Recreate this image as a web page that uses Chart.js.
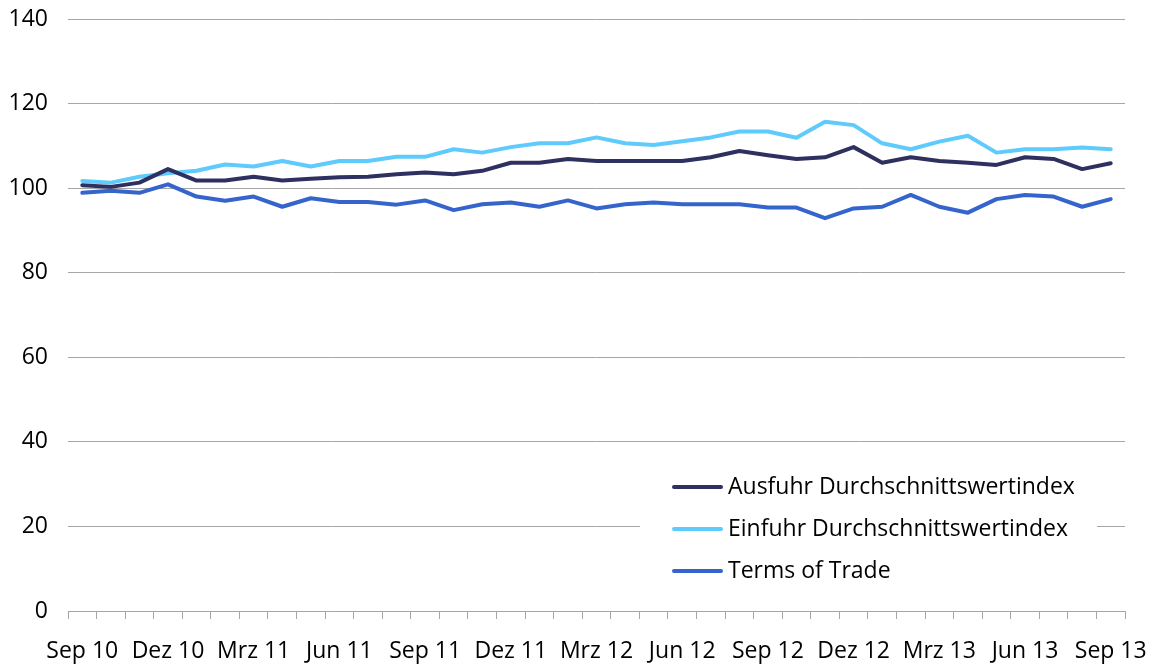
<!DOCTYPE html>
<html>
<head>
<meta charset="utf-8">
<script src="https://cdn.jsdelivr.net/npm/chart.js@4/dist/chart.umd.min.js"></script>
<style>
  html, body { margin: 0; padding: 0; background: #ffffff; }
  #wrap { width: 1154px; height: 666px; }
</style>
</head>
<body>
<div id="wrap"><canvas id="c" width="1154" height="666"></canvas></div>
<script>
// Monthly categories Sep 2010 – Sep 2013
const monthLabels = [
  'Sep 10','Okt 10','Nov 10','Dez 10','Jan 11','Feb 11','Mrz 11','Apr 11','Mai 11','Jun 11','Jul 11','Aug 11',
  'Sep 11','Okt 11','Nov 11','Dez 11','Jan 12','Feb 12','Mrz 12','Apr 12','Mai 12','Jun 12','Jul 12','Aug 12',
  'Sep 12','Okt 12','Nov 12','Dez 12','Jan 13','Feb 13','Mrz 13','Apr 13','Mai 13','Jun 13','Jul 13','Aug 13',
  'Sep 13'
];
// Only every third month is labelled on the axis
const shownLabels = ['Sep 10','Dez 10','Mrz 11','Jun 11','Sep 11','Dez 11','Mrz 12','Jun 12','Sep 12','Dez 12','Mrz 13','Jun 13','Sep 13'];

const ausfuhr = [100.7,100.3,101.3,104.5,101.8,101.8,102.7,101.8,102.2,102.6,102.7,103.3,103.7,103.3,104.1,106.0,106.0,106.9,106.4,106.4,106.4,106.4,107.3,108.8,107.8,106.9,107.3,109.7,106.0,107.3,106.4,106.0,105.5,107.3,106.9,104.5,105.9];
const einfuhr = [101.7,101.3,102.7,103.5,104.1,105.6,105.1,106.4,105.1,106.4,106.4,107.4,107.4,109.2,108.4,109.7,110.6,110.6,112.0,110.6,110.2,111.1,112.0,113.4,113.4,111.9,115.7,114.9,110.6,109.2,111.0,112.4,108.4,109.2,109.2,109.6,109.2];
const termsOfTrade = [98.9,99.4,98.9,100.9,98.0,97.0,98.0,95.6,97.6,96.7,96.7,96.1,97.1,94.8,96.2,96.6,95.6,97.1,95.2,96.2,96.6,96.2,96.2,96.2,95.4,95.4,92.9,95.2,95.6,98.4,95.6,94.2,97.4,98.4,98.0,95.6,97.4];

const seriesNames = ['Ausfuhr Durchschnittswertindex','Einfuhr Durchschnittswertindex','Terms of Trade'];
const yTicks = [0,20,40,60,80,100,120,140];

const FONT = '"Open Sans", "DejaVu Sans", sans-serif';
const colors = ['#2e3060', '#5ecbfc', '#3565cc'];
const gridColor = '#a6a6a6';

const legendPlugin = {
  id: 'innerLegend',
  beforeDatasetsDraw(chart) {
    const ctx = chart.ctx;
    ctx.save();
    ctx.fillStyle = '#ffffff';
    ctx.fillRect(640, 462, 457, 126);
    ctx.font = '23px ' + FONT;
    ctx.textBaseline = 'middle';
    ctx.textAlign = 'left';
    chart.data.datasets.forEach((ds, i) => {
      const y = 487 + i * 42;
      ctx.strokeStyle = ds.borderColor;
      ctx.lineWidth = 4;
      ctx.lineCap = 'round';
      ctx.beginPath();
      ctx.moveTo(674, y);
      ctx.lineTo(721, y);
      ctx.stroke();
      ctx.fillStyle = '#000000';
      ctx.fillText(ds.label, 728, y);
    });
    ctx.restore();
  }
};

function noPad(s) { s.paddingTop = 0; s.paddingBottom = 0; s.paddingLeft = 0; s.paddingRight = 0; }

new Chart(document.getElementById('c'), {
  type: 'line',
  data: {
    labels: monthLabels,
    datasets: [
      { label: seriesNames[0], data: ausfuhr, borderColor: colors[0] },
      { label: seriesNames[1], data: einfuhr, borderColor: colors[1] },
      { label: seriesNames[2], data: termsOfTrade, borderColor: colors[2] }
    ].map(d => Object.assign(d, { borderWidth: 4, pointRadius: 0, tension: 0, fill: false, borderJoinStyle: 'round', borderCapStyle: 'round' }))
  },
  options: {
    responsive: false,
    animation: false,
    devicePixelRatio: 1,
    layout: { padding: { left: 0, right: 29, top: 19, bottom: 0 } },
    plugins: { legend: { display: false }, tooltip: { enabled: false }, title: { display: false } },
    scales: {
      x: {
        type: 'category',
        offset: true,
        afterFit: s => { s.height = 55; noPad(s); },
        border: { display: true, color: gridColor, width: 1 },
        grid: { offset: true, drawOnChartArea: false, drawTicks: true, tickLength: 8, color: gridColor, lineWidth: 1 },
        ticks: {
          autoSkip: false, maxRotation: 0, minRotation: 0, padding: 19,
          color: '#000000', font: { family: FONT, size: 23 },
          callback: function(v, i) { const l = monthLabels[i]; return shownLabels.includes(l) ? l : ''; }
        }
      },
      y: {
        min: 0, max: 140,
        afterFit: s => { s.width = 68; noPad(s); },
        afterBuildTicks: s => { s.ticks = yTicks.map(v => ({ value: v })); },
        border: { display: false },
        grid: { drawTicks: false, color: gridColor, lineWidth: 1 },
        ticks: { padding: 20, color: '#000000', font: { family: FONT, size: 23 } }
      }
    }
  },
  plugins: [legendPlugin]
});
</script>
</body>
</html>
